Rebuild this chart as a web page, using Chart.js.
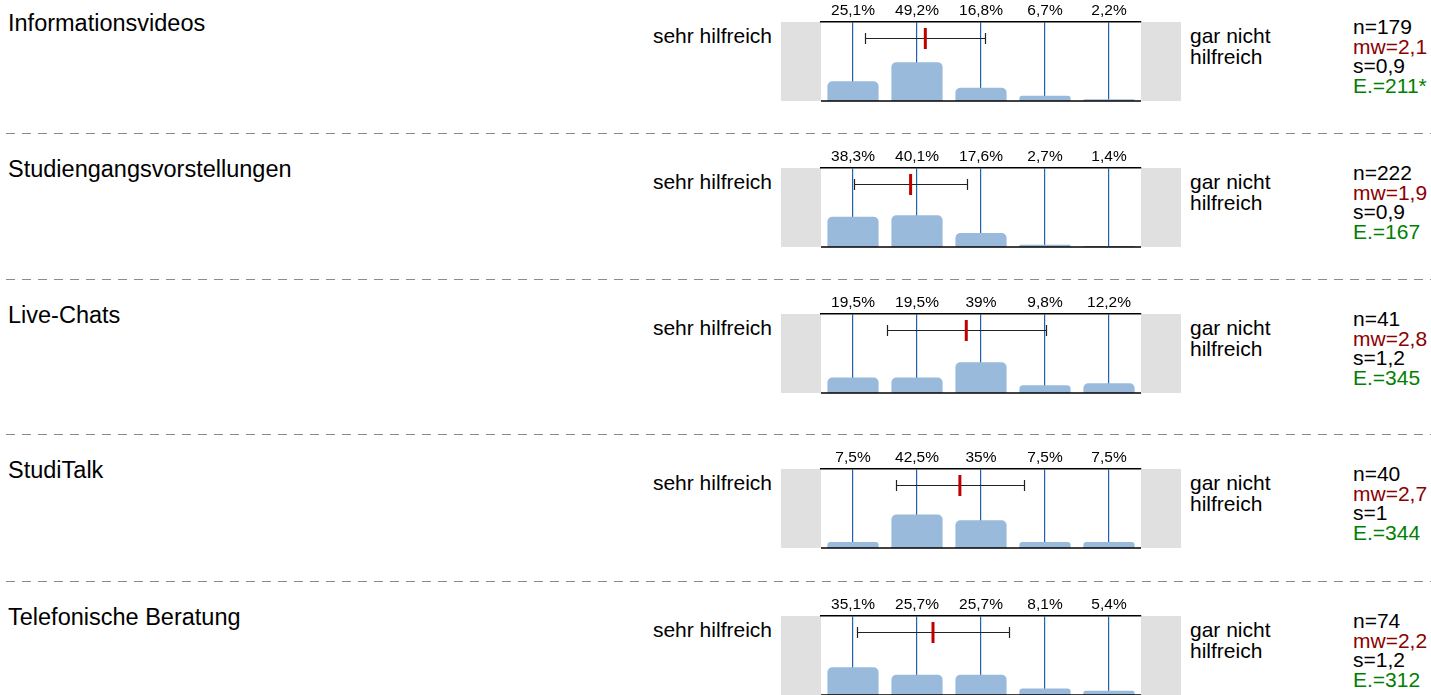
<!DOCTYPE html>
<html>
<head>
<meta charset="utf-8">
<script src="https://cdn.jsdelivr.net/npm/chart.js@4"></script>
<style>
  body { margin: 0; width: 1431px; height: 695px; overflow: hidden; position: relative; background: #fff;
         font-family: "Liberation Sans", Arial, sans-serif; color: #000; }
  .row { position: absolute; left: 0; width: 1431px; height: 150px; }
  .label { position: absolute; left: 8px; top: 12px; font-size: 23.5px; line-height: 23.5px; white-space: nowrap; }
  .left { position: absolute; right: 659px; top: 25px; font-size: 21px; line-height: 21px; white-space: nowrap; }
  .right { position: absolute; left: 1190px; top: 26px; font-size: 21px; line-height: 20.5px; }
  .stats { position: absolute; left: 1353px; top: 17px; font-size: 21px; line-height: 19.7px; white-space: nowrap; }
  .mw { color: #8b0000; }
  .e { color: #008000; }
  .sep { position: absolute; left: 6px; width: 1425px; height: 1px;
         background: repeating-linear-gradient(to right, #8a8a8a 0 9px, transparent 9px 16px); }
  canvas { position: absolute; left: 781px; top: 0; }
</style>
</head>
<body>
<script>
// data
const rowLabels = ['Informationsvideos', 'Studiengangsvorstellungen', 'Live-Chats', 'StudiTalk', 'Telefonische Beratung'];
const categories = ['1', '2', '3', '4', '5'];
const percentValues = [
    [25.1, 49.2, 16.8, 6.7, 2.2],
    [38.3, 40.1, 17.6, 2.7, 1.4],
    [19.5, 19.5, 39, 9.8, 12.2],
    [7.5, 42.5, 35, 7.5, 7.5],
    [35.1, 25.7, 25.7, 8.1, 5.4]
];
const nValues = ['179', '222', '41', '40', '74'];
const mwValues = ['2,1', '1,9', '2,8', '2,7', '2,2'];
const sValues = ['0,9', '0,9', '1,2', '1', '1,2'];
const eValues = ['211*', '167', '345', '344', '312'];
// mean / deviation as drawn on the scale (1..5)
const meanPos = [2.13, 1.9, 2.77, 2.67, 2.25];
const sdPos = [0.94, 0.885, 1.24, 1.0, 1.18];

const leftPole = 'sehr hilfreich';
const rightPole = 'gar nicht<br>hilfreich';

// layout
const rowTops = [0, 146, 292, 447, 594];
const fontFamily = '"Liberation Sans", Arial, sans-serif';

const framePlugin = {
    id: 'frame',
    beforeDraw(chart) {
        const { ctx, chartArea: a } = chart;
        ctx.save();
        ctx.fillStyle = '#e0e0e0';
        ctx.fillRect(a.left - 40, a.top, 40, a.bottom - a.top);
        ctx.fillRect(a.right, a.top, 40, a.bottom - a.top);
        ctx.restore();
    },
    afterDraw(chart) {
        const { ctx, chartArea: a } = chart;
        const x = chart.scales.x;
        const opt = chart.options.plugins.frame;
        ctx.save();
        // bottom line
        ctx.strokeStyle = '#000';
        ctx.lineWidth = 1.5;
        ctx.beginPath();
        ctx.moveTo(a.left, a.bottom);
        ctx.lineTo(a.right, a.bottom);
        ctx.stroke();

        // standard deviation bar
        const y = Math.round(a.top + 16) + 0.5;
        const x0 = Math.round(x.getPixelForValue(opt.mean - opt.sd - 1)) + 0.5;
        const x1 = Math.round(x.getPixelForValue(opt.mean + opt.sd - 1)) + 0.5;
        ctx.strokeStyle = '#222';
        ctx.lineWidth = 1.2;
        ctx.beginPath();
        ctx.moveTo(x0, y); ctx.lineTo(x1, y);
        ctx.moveTo(x0, y - 5.5); ctx.lineTo(x0, y + 5.5);
        ctx.moveTo(x1, y - 5.5); ctx.lineTo(x1, y + 5.5);
        ctx.stroke();

        // mean marker
        const xm = x.getPixelForValue(opt.mean - 1);
        ctx.strokeStyle = '#c00000';
        ctx.lineWidth = 3;
        ctx.beginPath();
        ctx.moveTo(xm, y - 10.5); ctx.lineTo(xm, y + 10.5);
        ctx.stroke();
        ctx.restore();
    }
};

function fmt(v) {
    return String(v).replace('.', ',') + '%';
}

rowLabels.forEach((label, r) => {
    const row = document.createElement('div');
    row.className = 'row';
    row.style.top = rowTops[r] + 'px';
    row.innerHTML =
        `<div class="label">${label}</div>` +
        `<div class="left">${leftPole}</div>` +
        `<div class="right">${rightPole}</div>` +
        `<div class="stats">n=${nValues[r]}<br><span class="mw">mw=${mwValues[r]}</span><br>s=${sValues[r]}<br><span class="e">E.=${eValues[r]}</span></div>`;
    const canvas = document.createElement('canvas');
    canvas.width = 400;
    canvas.height = 104;
    row.appendChild(canvas);
    document.body.appendChild(row);

    if (r < rowLabels.length - 1) {
        const sep = document.createElement('div');
        sep.className = 'sep';
        sep.style.top = (rowTops[r + 1] - 13) + 'px';
        document.body.appendChild(sep);
    }

    const values = percentValues[r];
    new Chart(canvas.getContext('2d'), {
        type: 'bar',
        data: {
            labels: categories,
            datasets: [{
                data: values,
                backgroundColor: '#99badb',
                borderRadius: 5,
                barPercentage: 0.8,
                categoryPercentage: 1
            }]
        },
        options: {
            responsive: false,
            animation: false,
            devicePixelRatio: 1,
            layout: { padding: { left: 40, right: 40, top: 0, bottom: 3 } },
            plugins: {
                legend: { display: false },
                tooltip: { enabled: false },
                frame: { mean: meanPos[r], sd: sdPos[r] }
            },
            scales: {
                x: {
                    position: 'top',
                    z: 1,
                    offset: true,
                    grid: { color: '#1e62b0', lineWidth: 1.2, offset: false, drawTicks: false },
                    border: { color: '#000', width: 1.5 },
                    ticks: {
                        color: '#000',
                        padding: 2,
                        maxRotation: 0,
                        autoSkip: false,
                        font: { family: fontFamily, size: 15.5 },
                        callback: (v, i) => fmt(values[i])
                    },
                    afterFit: s => { s.height = 22; }
                },
                y: { display: false, min: 0, max: 100 }
            }
        },
        plugins: [framePlugin]
    });
});
</script>
</body>
</html>
